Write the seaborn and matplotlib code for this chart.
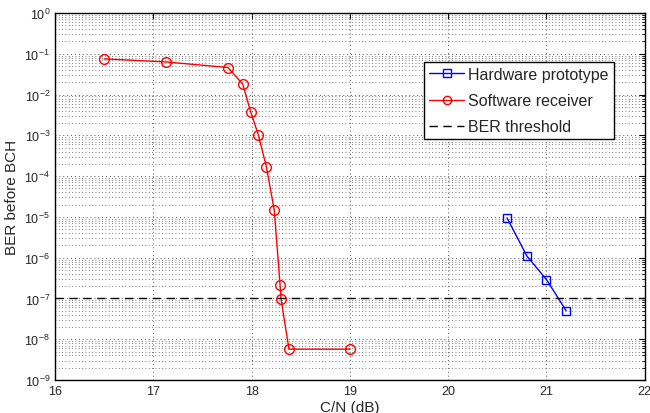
import numpy as np
import pandas as pd
import matplotlib
matplotlib.use("Agg")
import matplotlib.pyplot as plt
import seaborn as sns
from matplotlib.ticker import LogLocator, FixedLocator, NullFormatter

# data
hw_cn = [20.6, 20.8, 21.0, 21.2]
hw_ber = [9.3e-6, 1.1e-6, 2.9e-7, 5.0e-8]

sw_cn = [16.5, 17.13, 17.76, 17.91, 17.99, 18.07, 18.15, 18.23, 18.29, 18.30, 18.38, 19.0]
sw_ber = [0.075, 0.063, 0.046, 0.018, 3.8e-3, 1.0e-3, 1.7e-4, 1.5e-5, 2.1e-7, 9.6e-8, 5.7e-9, 5.7e-9]

ber_threshold = 1e-7

x_ticks = [16, 17, 18, 19, 20, 21, 22]
y_ticks = [1e0, 1e-1, 1e-2, 1e-3, 1e-4, 1e-5, 1e-6, 1e-7, 1e-8, 1e-9]

hw = pd.DataFrame({"cn": hw_cn, "ber": hw_ber})
sw = pd.DataFrame({"cn": sw_cn, "ber": sw_ber})

sns.set_style("white")
plt.rcParams["font.family"] = ["Liberation Sans", "DejaVu Sans"]
plt.rcParams["mathtext.fontset"] = "custom"
plt.rcParams["mathtext.rm"] = "Liberation Sans"
plt.rcParams["mathtext.it"] = "Liberation Sans:italic"

fig = plt.figure(figsize=(6.5, 4.14), dpi=100)
ax = fig.add_axes([0.0846, 0.0797, 0.9074, 0.8865])

sns.lineplot(data=hw, x="cn", y="ber", ax=ax, color="blue", marker="s",
             markersize=6, markerfacecolor="none", markeredgecolor="blue",
             markeredgewidth=1, linewidth=1, sort=False, estimator=None,
             label="Hardware prototype")
sns.lineplot(data=sw, x="cn", y="ber", ax=ax, color="red", marker="o",
             markersize=7, markerfacecolor="none", markeredgecolor="red",
             markeredgewidth=1, linewidth=1, sort=False, estimator=None,
             label="Software receiver")
ax.axhline(ber_threshold, color="black", linestyle=(0, (6, 4)), linewidth=1,
           label="BER threshold")

ax.set_yscale("log")
ax.set_xlim(16, 22)
ax.set_ylim(1e-9, 1e0)
ax.xaxis.set_major_locator(FixedLocator(x_ticks))
ax.yaxis.set_major_locator(FixedLocator(y_ticks))
ax.yaxis.set_minor_locator(LogLocator(base=10, subs=np.arange(2, 10), numticks=20))
ax.yaxis.set_minor_formatter(NullFormatter())

ax.grid(True, which="major", axis="x", color="#555555", linestyle=(0, (1, 3)), linewidth=0.7)
ax.grid(True, which="major", axis="y", color="#555555", linestyle=(0, (1, 3)), linewidth=0.7)
ax.grid(True, which="minor", axis="y", color="#555555", linestyle=(0, (1, 3)), linewidth=0.6)

ax.tick_params(which="both", direction="in", top=True, right=True, labelsize=9,
               color="black")
ax.tick_params(which="major", length=4)
ax.tick_params(which="minor", length=2)
for s in ax.spines.values():
    s.set_color("black")
    s.set_linewidth(1)

ax.set_xlabel("C/N (dB)", fontsize=11, labelpad=2)
ax.set_ylabel("BER before BCH", fontsize=11, labelpad=4)

leg = ax.legend(loc="upper right", bbox_to_anchor=(0.947, 0.866), fontsize=11.5,
                frameon=True, fancybox=False, framealpha=1, edgecolor="black",
                handlelength=2.2, handletextpad=0.25, labelspacing=0.7,
                borderpad=0.3, borderaxespad=0, markerscale=0.85)
leg.get_frame().set_linewidth(1)

fig.savefig("out.png", dpi=100)
